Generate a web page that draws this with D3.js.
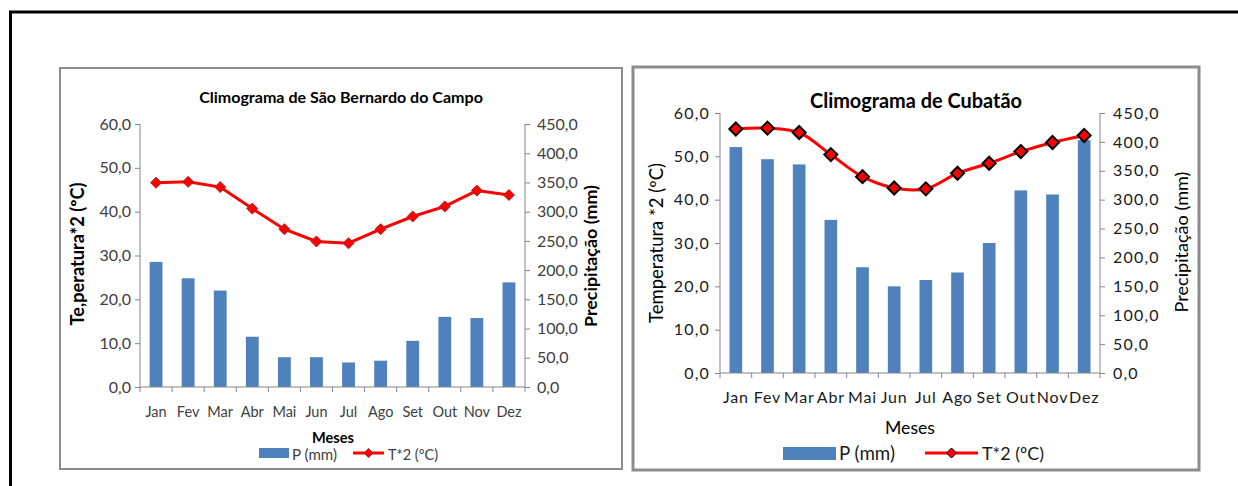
<!DOCTYPE html>
<html>
<head>
<meta charset="utf-8">
<script src="https://cdn.jsdelivr.net/npm/d3@7"></script>
<style>
  html, body { margin: 0; padding: 0; background: #fff; }
  svg { display: block; }
</style>
</head>
<body>
<svg id="chart" width="1238" height="486"></svg>
<script>
// Month categories shared by both climographs
const meses = ["Jan", "Fev", "Mar", "Abr", "Mai", "Jun", "Jul", "Ago", "Set", "Out", "Nov", "Dez"];

// São Bernardo do Campo: monthly precipitation (mm) and temperature x2 (ºC)
const precipSBC = [214, 186, 165, 86, 51, 51, 42, 45, 79, 120, 118, 179];
const tempSBC = [46.6, 46.8, 45.6, 40.7, 36.0, 33.2, 32.8, 36.0, 38.9, 41.2, 44.8, 43.8];

// Cubatão: monthly precipitation (mm) and temperature x2 (ºC)
const precipCUB = [391, 370, 361, 265, 183, 150, 161, 174, 225, 316, 309, 403];
const tempCUB = [56.3, 56.5, 55.5, 50.4, 45.3, 42.7, 42.5, 46.1, 48.4, 51.1, 53.2, 54.8];

// Axis tick values
const tempTicks = [0, 10, 20, 30, 40, 50, 60];
const precipTicks = [0, 50, 100, 150, 200, 250, 300, 350, 400, 450];

const fmt = v => v.toFixed(1).replace(".", ",");

const svg = d3.select("#chart");

// Scale a text's font size so that it spans the given width
function fitWidth(sel, width) {
  const fs = parseFloat(sel.attr("font-size"));
  const w = sel.node().getComputedTextLength();
  if (w > 0) sel.attr("font-size", (fs * width / w).toFixed(2));
  return sel;
}

// Outer frame (top and left edges visible)
svg.append("path")
  .attr("d", "M10.5,486 L10.5,12 L1238,12")
  .attr("fill", "none").attr("stroke", "#000").attr("stroke-width", 3);

function climograma(cfg) {
  const g = svg.append("g");

  // chart box
  g.append("rect")
    .attr("x", cfg.box[0]).attr("y", cfg.box[1])
    .attr("width", cfg.box[2]).attr("height", cfg.box[3])
    .attr("fill", "#fff").attr("stroke", "#8c8c8c").attr("stroke-width", cfg.boxStroke);

  const x = d3.scaleBand().domain(meses).range([cfg.x0, cfg.x1]).padding(0);
  const yT = d3.scaleLinear().domain([0, 60]).range([cfg.yBot, cfg.yTop]);
  const yP = d3.scaleLinear().domain([0, 450]).range([cfg.yBot, cfg.yTop]);
  const barW = x.bandwidth() * 0.4;

  // bars: precipitation
  g.append("g").selectAll("rect")
    .data(cfg.precip)
    .join("rect")
    .attr("x", (d, i) => x(meses[i]) + x.bandwidth() / 2 - barW / 2)
    .attr("y", d => yP(d))
    .attr("width", barW)
    .attr("height", d => yP(0) - yP(d))
    .attr("fill", "#4f81bd");

  // axes
  const axisColor = "#868686";
  const leftAxis = g.append("g")
    .attr("transform", `translate(${cfg.x0},0)`)
    .call(d3.axisLeft(yT).tickValues(tempTicks).tickFormat(fmt).tickSize(5).tickPadding(cfg.tickPad));
  const rightAxis = g.append("g")
    .attr("transform", `translate(${cfg.x1},0)`)
    .call(d3.axisRight(yP).tickValues(precipTicks).tickFormat(fmt).tickSize(5).tickPadding(cfg.tickPad + 3));
  // x axis: tick marks at category boundaries
  const bottom = g.append("g").attr("transform", `translate(0,${cfg.yBot})`);
  bottom.append("line").attr("x1", cfg.x0).attr("x2", cfg.x1)
    .attr("stroke", axisColor).attr("stroke-width", 1);
  bottom.selectAll("line.tk")
    .data(d3.range(13))
    .join("line").attr("class", "tk")
    .attr("x1", i => cfg.x0 + i * x.step()).attr("x2", i => cfg.x0 + i * x.step())
    .attr("y1", 0).attr("y2", 5)
    .attr("stroke", axisColor);
  bottom.selectAll("text")
    .data(meses)
    .join("text")
    .attr("x", d => x(d) + x.bandwidth() / 2)
    .attr("y", cfg.xLabelY)
    .attr("text-anchor", "middle")
    .attr("font-family", cfg.font)
    .attr("font-size", cfg.xFont)
    .attr("letter-spacing", cfg.xLetter)
    .attr("fill", cfg.textColor)
    .text(d => d);

  [leftAxis, rightAxis].forEach(a => {
    a.select(".domain").attr("stroke", axisColor).attr("d", `M0,${cfg.yBot}V${cfg.yTop}`);
    a.selectAll(".tick line").attr("stroke", axisColor);
    a.selectAll(".tick text")
      .attr("font-family", cfg.font)
      .attr("font-size", cfg.tickFont)
      .attr("letter-spacing", cfg.yLetter)
      .attr("fill", cfg.textColor);
  });

  // temperature line
  const line = d3.line()
    .x((d, i) => x(meses[i]) + x.bandwidth() / 2)
    .y(d => yT(d))
    .curve(cfg.smooth ? d3.curveCatmullRom.alpha(0.5) : d3.curveLinear);
  g.append("path")
    .datum(cfg.temp)
    .attr("d", line)
    .attr("fill", "none")
    .attr("stroke", "#ff0000")
    .attr("stroke-width", 3);

  const diamond = s => `M0,${-s}L${s},0L0,${s}L${-s},0Z`;
  g.append("g").selectAll("path")
    .data(cfg.temp)
    .join("path")
    .attr("transform", (d, i) => `translate(${x(meses[i]) + x.bandwidth() / 2},${yT(d)})`)
    .attr("d", diamond(cfg.markerR))
    .attr("fill", "#ff0000")
    .attr("stroke", cfg.markerStroke)
    .attr("stroke-width", cfg.markerStrokeW);

  // titles
  fitWidth(g.append("text")
    .attr("x", cfg.title[0]).attr("y", cfg.title[1])
    .attr("text-anchor", "middle")
    .attr("font-family", cfg.font)
    .attr("font-size", 14)
    .attr("font-weight", "bold")
    .attr("fill", "#000")
    .text(cfg.titleText), cfg.title[2]);

  fitWidth(g.append("text")
    .attr("transform", `translate(${cfg.leftTitle[0]},${cfg.leftTitle[1]}) rotate(-90)`)
    .attr("text-anchor", "middle")
    .attr("font-family", cfg.font)
    .attr("font-size", 14)
    .attr("font-weight", cfg.axisTitleWeight)
    .attr("fill", "#000")
    .text(cfg.leftTitleText), cfg.leftTitle[2]);

  fitWidth(g.append("text")
    .attr("transform", `translate(${cfg.rightTitle[0]},${cfg.rightTitle[1]}) rotate(-90)`)
    .attr("text-anchor", "middle")
    .attr("font-family", cfg.font)
    .attr("font-size", 14)
    .attr("font-weight", cfg.axisTitleWeight)
    .attr("fill", "#000")
    .text("Precipitação (mm)"), cfg.rightTitle[2]);

  fitWidth(g.append("text")
    .attr("x", cfg.meses[0]).attr("y", cfg.meses[1])
    .attr("text-anchor", "middle")
    .attr("font-family", cfg.font)
    .attr("font-size", 14)
    .attr("font-weight", cfg.mesesWeight)
    .attr("fill", "#000")
    .text("Meses"), cfg.meses[2]);

  // legend
  const L = cfg.legend;
  g.append("rect")
    .attr("x", L.rect[0]).attr("y", L.rect[1]).attr("width", L.rect[2]).attr("height", L.rect[3])
    .attr("fill", "#4f81bd");
  fitWidth(g.append("text")
    .attr("x", L.pText[0]).attr("y", L.pText[1])
    .attr("font-family", cfg.font).attr("font-size", 14)
    .attr("fill", cfg.textColor)
    .text("P (mm)"), L.pText[2]);
  g.append("line")
    .attr("x1", L.line[0]).attr("x2", L.line[1]).attr("y1", L.line[2]).attr("y2", L.line[2])
    .attr("stroke", "#ff0000").attr("stroke-width", 3);
  g.append("path")
    .attr("transform", `translate(${(L.line[0] + L.line[1]) / 2},${L.line[2]})`)
    .attr("d", diamond(L.markerR))
    .attr("fill", "#ff0000")
    .attr("stroke", cfg.markerStroke)
    .attr("stroke-width", 1);
  fitWidth(g.append("text")
    .attr("x", L.tText[0]).attr("y", L.tText[1])
    .attr("font-family", cfg.font).attr("font-size", 14)
    .attr("fill", cfg.textColor)
    .text("T*2 (ºC)"), L.tText[2]);
}

climograma({
  box: [60, 68, 562, 401], boxStroke: 2,
  x0: 140, x1: 525, yTop: 124, yBot: 387,
  precip: precipSBC, temp: tempSBC, smooth: false,
  font: "Lato, 'Liberation Sans', sans-serif",
  textColor: "#404040", tickFont: 16, xFont: 14.5, tickPad: 4, xLetter: 0, yLetter: 0,
  xLabelY: 30,
  markerR: 5.5, markerStroke: "#9a2a2a", markerStrokeW: 1,
  title: [341, 103, 284], titleText: "Climograma de São Bernardo do Campo",
  leftTitle: [84, 254, 143], rightTitle: [597, 256, 142], leftTitleText: "Te,peratura*2 (ºC)",
  axisTitleWeight: "bold",
  meses: [333, 443, 42], mesesWeight: "bold",
  legend: { rect: [259, 448, 30, 10], pText: [292, 460, 45], line: [353, 384, 453], markerR: 4.5,
            tText: [388, 460, 50] }
});

climograma({
  box: [633, 67, 566, 403], boxStroke: 3,
  x0: 720, x1: 1100, yTop: 113, yBot: 373,
  precip: precipCUB, temp: tempCUB, smooth: true,
  font: "Lato, 'Liberation Sans', sans-serif",
  textColor: "#1a1a1a", tickFont: 16, xFont: 16, tickPad: 5, xLetter: 0.8, yLetter: 1.2,
  xLabelY: 30,
  markerR: 6.5, markerStroke: "#000", markerStrokeW: 2,
  title: [916, 108, 212], titleText: "Climograma de Cubatão",
  leftTitle: [663, 243, 160], rightTitle: [1188, 242, 141], leftTitleText: "Temperatura *2 (ºC)",
  axisTitleWeight: "normal",
  meses: [910, 434, 50], mesesWeight: "normal",
  legend: { rect: [783, 447, 53, 13], pText: [839, 460, 56], line: [925, 978, 453], markerR: 5,
            tText: [982, 460, 62] }
});
</script>
</body>
</html>
